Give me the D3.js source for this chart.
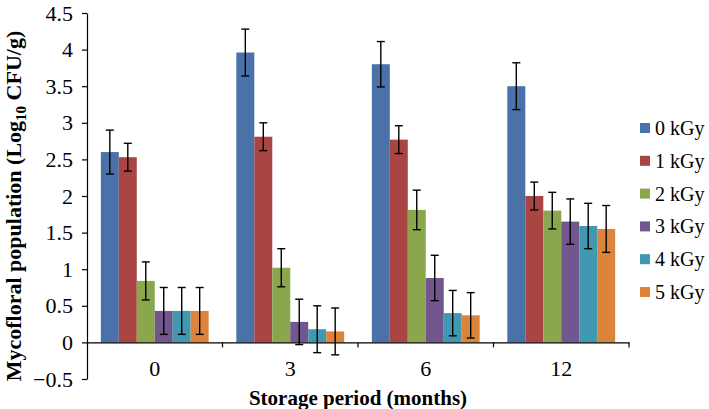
<!DOCTYPE html>
<html>
<head>
<meta charset="utf-8">
<script src="https://cdn.jsdelivr.net/npm/d3@7"></script>
<style>
  body { margin: 0; background: #fff; }
  svg text { font-family: "Liberation Serif", "Times New Roman", serif; fill: #000; }
</style>
</head>
<body>
<div id="canvas"></div>
<script>
// data
const categories = ["0", "3", "6", "12"];
const series = ["0 kGy", "1 kGy", "2 kGy", "3 kGy", "4 kGy", "5 kGy"];
const colors = ["#4a72a8", "#a94542", "#8aa74e", "#72578f", "#4199b1", "#dc843b"];

const kGy0 = [2.60, 3.96, 3.80, 3.50];
const kGy1 = [2.53, 2.81, 2.77, 2.00];
const kGy2 = [0.84, 1.02, 1.81, 1.80];
const kGy3 = [0.43, 0.28, 0.88, 1.65];
const kGy4 = [0.43, 0.18, 0.40, 1.59];
const kGy5 = [0.43, 0.15, 0.37, 1.55];

const err0 = [0.30, 0.32, 0.31, 0.32];
const err1 = [0.19, 0.19, 0.19, 0.19];
const err2 = [0.26, 0.26, 0.27, 0.25];
const err3 = [0.32, 0.31, 0.31, 0.31];
const err4 = [0.32, 0.32, 0.31, 0.31];
const err5 = [0.32, 0.32, 0.31, 0.32];

const yTicks = [-0.5, 0, 0.5, 1, 1.5, 2, 2.5, 3, 3.5, 4, 4.5];

const values = [kGy0, kGy1, kGy2, kGy3, kGy4, kGy5];
const errors = [err0, err1, err2, err3, err4, err5];

const data = [];
categories.forEach((c, i) => {
    series.forEach((s, j) => {
        data.push({ cat: c, s: s, v: values[j][i], e: errors[j][i], color: colors[j] });
    });
});

const width = 709;
const height = 409;
const margin = { top: 13, left: 87, bottom: 30, right: 80 };

const svg = d3.select("#canvas").append("svg")
    .attr("width", width)
    .attr("height", height);

const y = d3.scaleLinear()
    .domain([-0.5, 4.5])
    .range([379, margin.top]);

const x0 = d3.scaleBand()
    .domain(categories)
    .range([margin.left, 629]);

const x1 = d3.scaleBand()
    .domain(series)
    .range([0, x0.bandwidth()])
    .paddingOuter(0.77);

// bars
svg.append("g").selectAll("rect")
    .data(data)
    .enter().append("rect")
    .attr("x", d => x0(d.cat) + x1(d.s))
    .attr("y", d => y(d.v))
    .attr("width", x1.bandwidth())
    .attr("height", d => y(0) - y(d.v))
    .style("fill", d => d.color);

// error bars
const eb = svg.append("g").selectAll("g")
    .data(data)
    .enter().append("g")
    .attr("stroke", "#000")
    .attr("stroke-width", 1.4);

const cx = d => x0(d.cat) + x1(d.s) + x1.bandwidth() / 2;
eb.append("line")
    .attr("x1", cx).attr("x2", cx)
    .attr("y1", d => y(d.v + d.e))
    .attr("y2", d => y(d.v - d.e));
eb.append("line")
    .attr("x1", d => cx(d) - 4).attr("x2", d => cx(d) + 4)
    .attr("y1", d => y(d.v + d.e)).attr("y2", d => y(d.v + d.e));
eb.append("line")
    .attr("x1", d => cx(d) - 4).attr("x2", d => cx(d) + 4)
    .attr("y1", d => y(d.v - d.e)).attr("y2", d => y(d.v - d.e));

// y axis
const yAxis = svg.append("g")
    .attr("transform", `translate(${margin.left},0)`)
    .call(d3.axisLeft(y).tickValues(yTicks).tickSize(5).tickSizeOuter(0).tickPadding(9)
        .tickFormat(d3.format("")))
    .attr("font-family", null)
    .attr("font-size", null);
yAxis.selectAll("text").style("font-size", "22px");
yAxis.selectAll("line, path").attr("stroke", "#000").attr("stroke-width", 1.2);

// x axis at zero
const xAxis = svg.append("g")
    .attr("transform", `translate(0,${y(0)})`)
    .call(d3.axisBottom(x0).tickSize(0).tickSizeOuter(0).tickPadding(18))
    .attr("font-family", null)
    .attr("font-size", null);
xAxis.selectAll("text").style("font-size", "22px");
xAxis.select("path").attr("stroke", "#000").attr("stroke-width", 1.2);

// category boundary ticks
const bounds = categories.map(c => x0(c) + x0.bandwidth());
xAxis.selectAll(".bound")
    .data(bounds)
    .enter().append("line")
    .attr("x1", d => d).attr("x2", d => d)
    .attr("y1", 0).attr("y2", 5)
    .attr("stroke", "#000")
    .attr("stroke-width", 1.2);

// axis titles
svg.append("text")
    .attr("x", (margin.left + 629) / 2)
    .attr("y", 405)
    .attr("text-anchor", "middle")
    .style("font-size", "21px")
    .style("font-weight", "bold")
    .text("Storage period (months)");

const yt = svg.append("text")
    .attr("transform", "translate(21,206) rotate(-90)")
    .attr("text-anchor", "middle")
    .style("font-size", "22px")
    .style("font-weight", "bold");
yt.append("tspan").text("Mycofloral population (Log");
yt.append("tspan").attr("dy", 5).style("font-size", "15px").text("10");
yt.append("tspan").attr("dy", -5).text(" CFU/g)");

// legend
const legend = svg.append("g").selectAll("g")
    .data(series)
    .enter().append("g")
    .attr("transform", (d, i) => `translate(640,${128 + i * 32.8})`);
legend.append("rect")
    .attr("x", 0).attr("y", -5)
    .attr("width", 10).attr("height", 10)
    .style("fill", (d, i) => colors[i]);
legend.append("text")
    .attr("x", 15).attr("y", 7)
    .style("font-size", "20px")
    .text(d => d);
</script>
</body>
</html>
